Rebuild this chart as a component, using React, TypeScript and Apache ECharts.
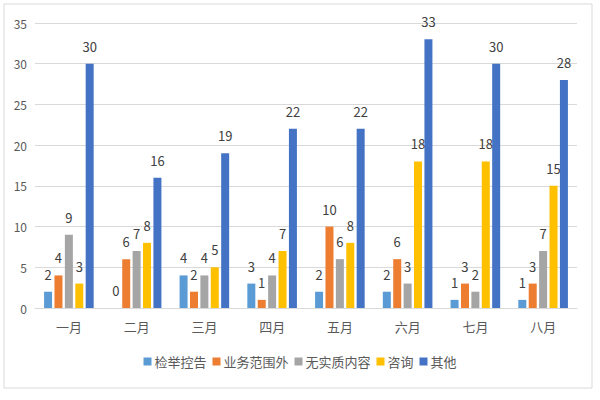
import React, { useEffect, useRef } from "react";
import * as echarts from "echarts";

const categories = ["一月", "二月", "三月", "四月", "五月", "六月", "七月", "八月"];
const seriesNames = ["检举控告", "业务范围外", "无实质内容", "咨询", "其他"];
const jianju = [2, 0, 4, 3, 2, 2, 1, 1];
const yewu = [4, 6, 2, 1, 10, 6, 3, 3];
const wushizhi = [9, 7, 4, 4, 6, 3, 2, 7];
const zixun = [3, 8, 5, 7, 8, 18, 18, 15];
const qita = [30, 16, 19, 22, 22, 33, 30, 28];
const colors = ["#5B9BD5", "#ED7D31", "#A5A5A5", "#FFC000", "#4472C4"];
const yTicks = { min: 0, max: 35, interval: 5 };

const FONT = "'Noto Sans CJK SC', 'Microsoft YaHei', sans-serif";

export default function App() {
  const ref = useRef<HTMLDivElement>(null);
  useEffect(() => {
    if (!ref.current) return;
    const chart = echarts.init(ref.current, undefined, { renderer: "svg" });
    const dataSets = [jianju, yewu, wushizhi, zixun, qita];
    chart.setOption({
      animation: false,
      backgroundColor: "#ffffff",
      textStyle: { fontFamily: FONT },
      color: colors,
      graphic: [
        {
          type: "rect",
          shape: { x: 4, y: 4, width: 588, height: 384 },
          style: { fill: "none", stroke: "#d9d9d9", lineWidth: 1 },
          silent: true,
        },
      ],
      grid: { left: 35, right: 23, top: 23, bottom: 92, containLabel: false },
      legend: {
        data: seriesNames,
        bottom: 27,
        left: "center",
        itemWidth: 8,
        itemHeight: 8,
        itemGap: 6,
        icon: "rect",
        textStyle: { color: "#595959", fontSize: 13, fontFamily: FONT, padding: [0, 0, 0, -2] },
      },
      xAxis: {
        type: "category",
        data: categories,
        axisLine: { lineStyle: { color: "#d9d9d9" } },
        axisTick: { show: false },
        axisLabel: { color: "#595959", fontSize: 13, margin: 12, fontFamily: FONT },
      },
      yAxis: {
        type: "value",
        min: yTicks.min,
        max: yTicks.max,
        interval: yTicks.interval,
        axisLine: { show: false },
        axisTick: { show: false },
        axisLabel: { color: "#595959", fontSize: 12, margin: 8, fontFamily: FONT },
        splitLine: { lineStyle: { color: "#d9d9d9" } },
      },
      series: seriesNames.map((name, i) => ({
        name,
        type: "bar",
        data: dataSets[i],
        barWidth: 8,
        barGap: "30%",
        itemStyle: { color: colors[i] },
        label: {
          show: true,
          position: "top",
          distance: 11,
          color: "#404040",
          fontSize: 13,
          fontFamily: FONT,
        },
      })),
    });
    return () => chart.dispose();
  }, []);
  return (
    <div
      ref={ref}
      style={{ position: "absolute", left: 0, top: 0, width: 600, height: 400 }}
    />
  );
}
